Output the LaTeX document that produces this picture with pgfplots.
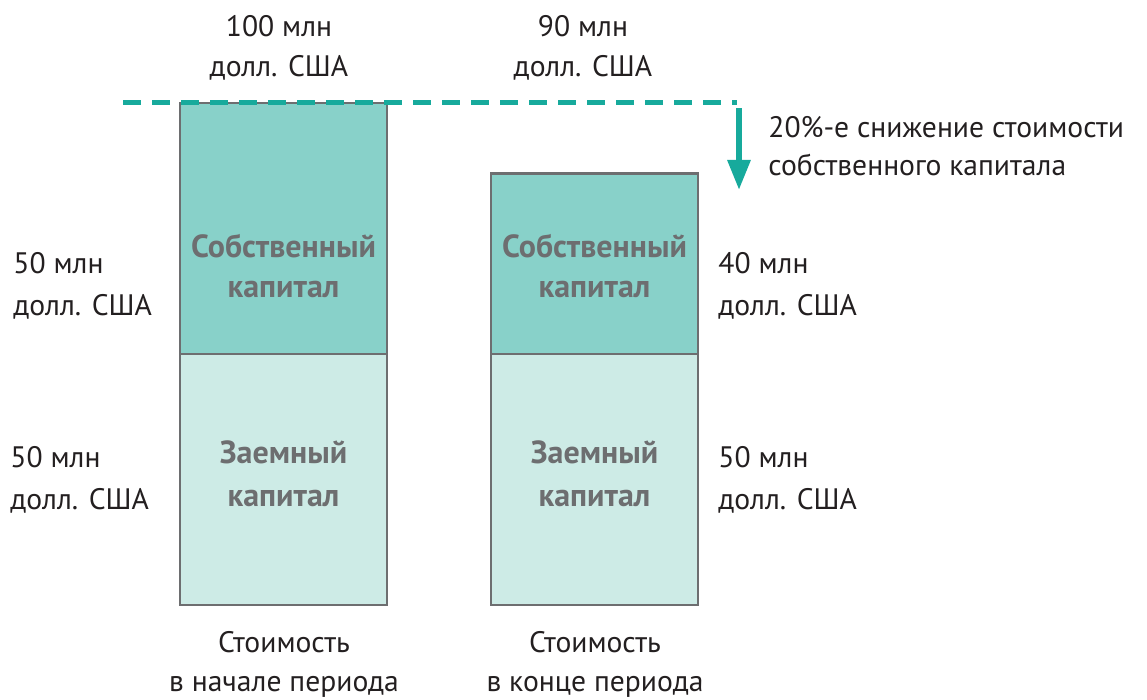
\documentclass[border=0pt]{standalone}
\usepackage{pgfplots}
\pgfplotsset{compat=1.18}
\usetikzlibrary{arrows.meta}
\usepackage{fontspec}
\setmainfont{PT Sans}

\definecolor{eqfill}{HTML}{88D1C9}
\definecolor{debtfill}{HTML}{CDEBE6}
\definecolor{edgegray}{HTML}{6D6E70}
\definecolor{tealline}{HTML}{17AA9C}
\definecolor{txt}{HTML}{231F20}

% y in data units: v = (605 - px)/5.02 ; x in pixels of the 1147x700 frame
\pgfplotstableread{
x      debt  equity
283.5  50    50
594.5  50    36
}\bars

\begin{document}
\begin{tikzpicture}[
  lab/.style={font=\fontsize{14.8}{17}\selectfont, text=txt, inner sep=0pt},
  inlab/.style={anchor=base, inner sep=0pt, text=edgegray, font=\fontsize{16}{19}\selectfont\bfseries},
]
\begin{axis}[
  scale only axis, width=573.5pt, height=350pt,
  xmin=0, xmax=1147, ymin=-18.92, ymax=120.52,
  hide axis, clip=false,
  ybar stacked, bar width=207,
]
\addplot[fill=debtfill, draw=edgegray, line width=1.4pt] table[x=x, y=debt] {\bars};
\addplot[fill=eqfill, draw=edgegray, line width=1.4pt] table[x=x, y=equity] {\bars};

% full frame, so the page keeps the reference proportions
\path (axis cs:0,-18.92) rectangle (axis cs:1147,120.52);

% anchors for things drawn on top of the bars
\coordinate (dl) at (axis cs:123,100);
\coordinate (dr) at (axis cs:737,100);
\coordinate (a0) at (axis cs:739,99.0);
\coordinate (a1) at (axis cs:739,82.67);
\coordinate (s1) at (axis cs:283.5,69.3);
\coordinate (k1) at (axis cs:283.5,61.2);
\coordinate (z1) at (axis cs:283.5,28.1);
\coordinate (q1) at (axis cs:283.5,19.7);
\coordinate (s2) at (axis cs:594.5,69.3);
\coordinate (k2) at (axis cs:594.5,61.2);
\coordinate (z2) at (axis cs:594.5,28.1);
\coordinate (q2) at (axis cs:594.5,19.7);

% top value labels
\node[lab, anchor=base] at (axis cs:279,113.3) {100 млн};
\node[lab, anchor=base] at (axis cs:279,105.2) {долл. США};
\node[lab, anchor=base] at (axis cs:583,113.3) {90 млн};
\node[lab, anchor=base] at (axis cs:583,105.2) {долл. США};

% annotation
\node[lab, anchor=base west] at (axis cs:768,93.2) {20\%-е снижение стоимости};
\node[lab, anchor=base west] at (axis cs:768,85.5) {собственного капитала};

% side labels
\node[lab, anchor=base west] at (axis cs:13,66.0) {50 млн};
\node[lab, anchor=base west] at (axis cs:13,57.6) {долл. США};
\node[lab, anchor=base west] at (axis cs:10,27.3) {50 млн};
\node[lab, anchor=base west] at (axis cs:10,19.1) {долл. США};
\node[lab, anchor=base west] at (axis cs:718,66.0) {40 млн};
\node[lab, anchor=base west] at (axis cs:718,57.6) {долл. США};
\node[lab, anchor=base west] at (axis cs:718,27.3) {50 млн};
\node[lab, anchor=base west] at (axis cs:718,19.1) {долл. США};

% category labels below
\node[lab, anchor=base] at (axis cs:284,-9.4) {Стоимость};
\node[lab, anchor=base] at (axis cs:284,-17.3) {в начале периода};
\node[lab, anchor=base] at (axis cs:595,-9.4) {Стоимость};
\node[lab, anchor=base] at (axis cs:595,-17.3) {в конце периода};
\end{axis}

% dashed reference line and arrow
\draw[tealline, line width=2.5pt, dash pattern=on 9pt off 5.5pt] (dl) -- (dr);
\draw[tealline, line width=3pt, -{Triangle[width=11pt, length=15pt]}] (a0) -- (a1);

% labels inside bars
\node[inlab] at (s1) {Собственный};
\node[inlab] at (k1) {капитал};
\node[inlab] at (z1) {Заемный};
\node[inlab] at (q1) {капитал};
\node[inlab] at (s2) {Собственный};
\node[inlab] at (k2) {капитал};
\node[inlab] at (z2) {Заемный};
\node[inlab] at (q2) {капитал};
\end{tikzpicture}
\end{document}
